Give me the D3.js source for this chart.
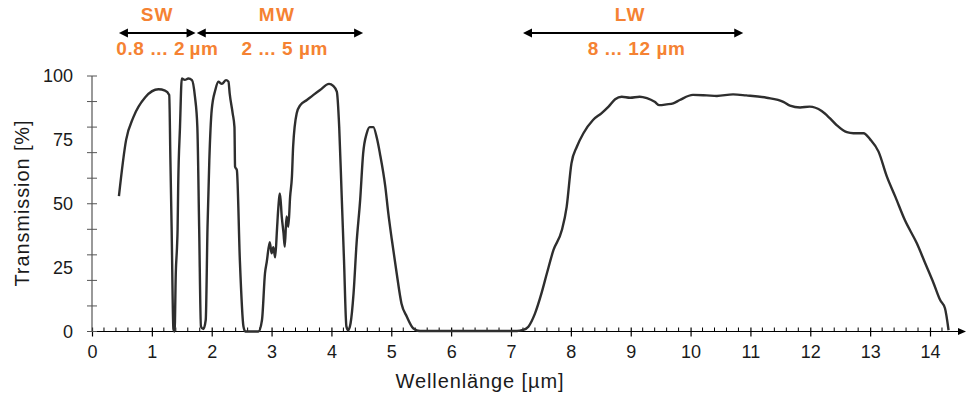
<!DOCTYPE html>
<html>
<head>
<meta charset="utf-8">
<script src="https://cdn.jsdelivr.net/npm/d3@7"></script>
<style>
  body { margin: 0; background: #fff; }
  svg { display: block; font-family: "Liberation Sans", Arial, sans-serif; }
</style>
</head>
<body>
<script>
// chart data
const wavelength = [0.45, 0.57, 0.69, 0.89, 1.11, 1.22, 1.29, 1.31, 1.33, 1.36, 1.38, 1.40, 1.42, 1.43, 1.44, 1.47, 1.50, 1.55, 1.61, 1.67,
  1.72, 1.76, 1.79, 1.82, 1.86, 1.90, 1.93, 1.96, 2.00, 2.06, 2.11, 2.17, 2.24, 2.28, 2.30, 2.35, 2.38, 2.39, 2.42, 2.47,
  2.53, 2.56, 2.78, 2.84, 2.89, 2.92, 2.97, 3.00, 3.03, 3.06, 3.09, 3.11, 3.14, 3.17, 3.20, 3.22, 3.25, 3.28, 3.31, 3.34,
  3.36, 3.42, 3.48, 3.59, 3.70, 3.81, 3.96, 4.03, 4.09, 4.13, 4.17, 4.21, 4.25, 4.28, 4.32, 4.37, 4.42, 4.48, 4.53, 4.59,
  4.64, 4.70, 4.76, 4.81, 4.90, 4.95, 5.01, 5.09, 5.17, 5.26, 5.37, 5.48, 7.10, 7.20, 7.29, 7.40, 7.51, 7.60, 7.71, 7.85,
  7.93, 8.01, 8.10, 8.21, 8.37, 8.51, 8.63, 8.74, 8.85, 8.99, 9.15, 9.27, 9.40, 9.48, 9.60, 9.71, 9.82, 10.04, 10.27, 10.44,
  10.71, 10.93, 11.27, 11.55, 11.66, 11.83, 11.99, 12.19, 12.33, 12.44, 12.61, 12.72, 12.89, 13.00, 13.14, 13.28, 13.42, 13.58, 13.78, 13.92,
  14.06, 14.17, 14.25, 14.31];
const transmission = [53, 75, 83.8, 91.7, 94.8, 94.3, 92.6, 67, 41, 1, 0, 23, 33, 40, 57, 80, 99, 98.5, 99, 98.4,
  91.9, 80, 41, 2, 1, 4.5, 41, 67, 86.7, 94.5, 97.8, 96.9, 98.4, 97.8, 93.2, 85.4, 80, 64.5, 63.2, 28,
  2, 0, 0, 4.5, 22.8, 27.3, 35, 30.6, 33, 29, 39.7, 47.5, 54, 45, 38.4, 33.2, 45, 41, 52.8, 60.6,
  72.3, 85.4, 88.6, 90.6, 92.6, 94.5, 96.9, 96.1, 93.9, 80, 54, 28, 2, 0.5, 3.2, 15, 34.5, 51.5, 69.7, 77.6,
  80, 80, 75.6, 69.7, 56.7, 46.3, 35.8, 22.8, 11, 5.8, 1.2, 0.2, 0.2, 0.6, 1.9, 7, 15, 22.8, 31.9, 39.7,
  48.8, 65.8, 72.3, 77.6, 82.8, 85.4, 88, 90.9, 91.9, 91.5, 91.9, 91.3, 89.9, 88.6, 88.9, 89.3, 90.6, 92.6, 92.4, 92.2,
  92.8, 92.4, 91.5, 89.9, 88.4, 87.7, 88, 86.3, 83.4, 80.8, 78, 77.6, 77.6, 75.2, 70.4, 60.6, 52.8, 43.6, 34.5, 26.7,
  18.9, 12.3, 9.1, 0.5];

// tick labels
const xTicks = d3.range(0, 15, 1);
const yTicks = [0, 25, 50, 75, 100];

// band annotations (in µm along the x scale)
const bandNames = ["SW", "MW", "LW"];
const bandRanges = ["0.8 ... 2\u2009µm", "2 ... 5 µm", "8 ... 12 µm"];
const arrowFrom = [0.45, 1.75, 7.2];
const arrowTo = [1.73, 4.53, 10.88];
const nameAt = [1.09, 3.09, 8.99];
const rangeAt = [1.26, 3.22, 9.10];

const width = 966;
const height = 397;
const orange = "#f58232";

var svg, x_scale, y_scale;

function generateScale() {
    x_scale = d3.scaleLinear().domain([0, 14]).range([92, 930]);
    y_scale = d3.scaleLinear().domain([0, 100]).range([331.5, 76]);
}

function generateAxis() {
    const y0 = y_scale(0);
    // x axis line with arrow
    svg.append("line")
        .attr("x1", x_scale(0)).attr("x2", 962)
        .attr("y1", y0).attr("y2", y0)
        .attr("stroke", "#000").attr("stroke-width", 1.2);
    svg.append("path")
        .attr("d", `M966,${y0} L958,${y0 - 3.5} L958,${y0 + 3.5} Z`)
        .attr("fill", "#000");

    // minor x ticks every 0.2 (above the line)
    svg.append("g").selectAll("line")
        .data(d3.range(0, 72).map(i => i * 0.2).filter(v => Math.abs(v - Math.round(v)) > 0.01))
        .enter().append("line")
        .attr("x1", d => x_scale(d)).attr("x2", d => x_scale(d))
        .attr("y1", y0 - 4).attr("y2", y0)
        .attr("stroke", "#000").attr("stroke-width", 1);

    // major x ticks and labels
    const x_axis = d3.axisBottom(x_scale).tickValues(xTicks).tickSize(0).tickPadding(14);
    const gx = svg.append("g")
        .attr("id", "x-axis")
        .attr("transform", `translate(0, ${y0})`)
        .call(x_axis);
    gx.select(".domain").remove();
    gx.selectAll(".tick").append("line")
        .attr("y1", -4).attr("y2", 5)
        .attr("stroke", "#000").attr("stroke-width", 1.2);
    gx.selectAll("text")
        .attr("fill", "#1a1a1a")
        .style("font-size", "18px");

    // y axis line
    svg.append("line")
        .attr("x1", x_scale(0)).attr("x2", x_scale(0))
        .attr("y1", y_scale(100)).attr("y2", y0)
        .attr("stroke", "#555").attr("stroke-width", 1.2);
    // y ticks every 10, crossing the line
    svg.append("g").selectAll("line")
        .data(d3.range(0, 101, 10))
        .enter().append("line")
        .attr("x1", x_scale(0) - 5).attr("x2", x_scale(0) + 5)
        .attr("y1", d => y_scale(d)).attr("y2", d => y_scale(d))
        .attr("stroke", "#555").attr("stroke-width", 1);

    const y_axis = d3.axisLeft(y_scale).tickValues(yTicks).tickSize(0).tickPadding(19);
    const gy = svg.append("g")
        .attr("id", "y-axis")
        .attr("transform", `translate(${x_scale(0)}, 0)`)
        .call(y_axis);
    gy.select(".domain").remove();
    gy.selectAll("text")
        .attr("fill", "#1a1a1a")
        .style("font-size", "18px");
}

function generateTitles() {
    svg.append("text")
        .attr("x", 480).attr("y", 388)
        .attr("text-anchor", "middle")
        .style("font-size", "20px")
        .style("letter-spacing", "0.9px")
        .attr("fill", "#1a1a1a")
        .text("Wellenlänge [µm]");
    svg.append("text")
        .attr("transform", "translate(29, 203) rotate(-90)")
        .attr("text-anchor", "middle")
        .style("font-size", "20px")
        .style("letter-spacing", "0.9px")
        .attr("fill", "#1a1a1a")
        .text("Transmission [%]");
}

function generateBands() {
    const ay = 33;
    const g = svg.append("g");
    bandNames.forEach((name, i) => {
        const a = x_scale(arrowFrom[i]);
        const b = x_scale(arrowTo[i]);
        g.append("line")
            .attr("x1", a + 4).attr("x2", b - 4)
            .attr("y1", ay).attr("y2", ay)
            .attr("stroke", "#000").attr("stroke-width", 2);
        g.append("path")
            .attr("d", `M${a},${ay} L${a + 9},${ay - 4.5} L${a + 9},${ay + 4.5} Z`)
            .attr("fill", "#000");
        g.append("path")
            .attr("d", `M${b},${ay} L${b - 9},${ay - 4.5} L${b - 9},${ay + 4.5} Z`)
            .attr("fill", "#000");
        g.append("text")
            .attr("x", x_scale(nameAt[i])).attr("y", 21)
            .attr("text-anchor", "middle")
            .attr("fill", orange)
            .style("font-size", "19px").style("font-weight", "bold")
            .style("letter-spacing", "1.2px")
            .text(name);
        g.append("text")
            .attr("x", x_scale(rangeAt[i])).attr("y", 55)
            .attr("text-anchor", "middle")
            .attr("fill", orange)
            .style("font-size", "19px").style("font-weight", "bold")
            .style("letter-spacing", "0.6px")
            .text(bandRanges[i]);
    });
}

function generateLine() {
    const pts = wavelength.map((w, i) => [w, transmission[i]]);
    const line = d3.line()
        .x(d => x_scale(d[0]))
        .y(d => y_scale(d[1]))
        .curve(d3.curveMonotoneX);
    svg.append("path")
        .datum(pts)
        .attr("d", line)
        .attr("fill", "none")
        .attr("stroke", "#2e2e2e")
        .attr("stroke-width", 2.4)
        .attr("stroke-linejoin", "round");
}

document.addEventListener('DOMContentLoaded', function () {
    svg = d3.select("body")
        .append("svg")
        .attr("width", width)
        .attr("height", height);
    generateScale();
    generateAxis();
    generateLine();
    generateTitles();
    generateBands();
});
</script>
</body>
</html>
